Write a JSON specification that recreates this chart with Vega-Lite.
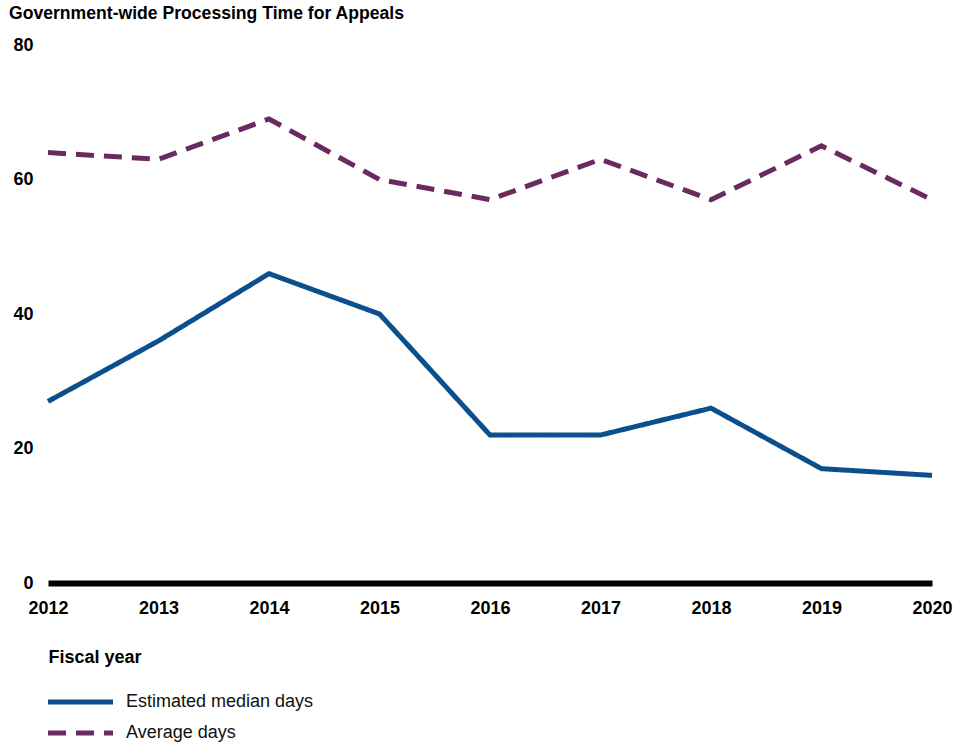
{
  "$schema": "https://vega.github.io/schema/vega-lite/v6.json",
  "autosize": "none",
  "width": 884,
  "height": 538,
  "padding": {"left": 48, "top": 45, "right": 35, "bottom": 159},
  "background": "white",
  "title": {
    "text": "Government-wide Processing Time for Appeals",
    "anchor": "start",
    "frame": "group",
    "dx": -39,
    "offset": 13,
    "font": "Liberation Sans",
    "fontSize": 17.6,
    "fontWeight": "bold",
    "color": "#000000"
  },
  "config": {
    "view": {"stroke": null},
    "font": "Liberation Sans"
  },
  "data": {
    "values": [
      {"year": "2012", "series": "Estimated median days", "days": 27},
      {"year": "2013", "series": "Estimated median days", "days": 36},
      {"year": "2014", "series": "Estimated median days", "days": 46},
      {"year": "2015", "series": "Estimated median days", "days": 40},
      {"year": "2016", "series": "Estimated median days", "days": 22},
      {"year": "2017", "series": "Estimated median days", "days": 22},
      {"year": "2018", "series": "Estimated median days", "days": 26},
      {"year": "2019", "series": "Estimated median days", "days": 17},
      {"year": "2020", "series": "Estimated median days", "days": 16},
      {"year": "2012", "series": "Average days", "days": 64},
      {"year": "2013", "series": "Average days", "days": 63},
      {"year": "2014", "series": "Average days", "days": 69},
      {"year": "2015", "series": "Average days", "days": 60},
      {"year": "2016", "series": "Average days", "days": 57},
      {"year": "2017", "series": "Average days", "days": 63},
      {"year": "2018", "series": "Average days", "days": 57},
      {"year": "2019", "series": "Average days", "days": 65},
      {"year": "2020", "series": "Average days", "days": 57}
    ]
  },
  "mark": {"type": "line", "strokeWidth": 5, "strokeCap": "butt", "strokeJoin": "miter"},
  "encoding": {
    "x": {
      "field": "year",
      "type": "ordinal",
      "scale": {"type": "point", "padding": 0},
      "axis": {
        "title": "Fiscal year",
        "titleFont": "Liberation Sans",
        "titleFontSize": 18,
        "titleFontWeight": "bold",
        "titleColor": "#000000",
        "titleAnchor": "start",
        "titleAlign": "left",
        "titleBaseline": "middle",
        "titleX": 0,
        "titleY": 74,
        "labelAngle": 0,
        "labelFont": "Liberation Sans",
        "labelFontSize": 18,
        "labelFontWeight": "bold",
        "labelColor": "#000000",
        "labelPadding": 25,
        "labelBaseline": "middle",
        "ticks": false,
        "domain": true,
        "domainColor": "#000000",
        "domainWidth": 6,
        "grid": false
      }
    },
    "y": {
      "field": "days",
      "type": "quantitative",
      "scale": {"domain": [0, 80]},
      "axis": {
        "title": null,
        "values": [0, 20, 40, 60, 80],
        "labelFont": "Liberation Sans",
        "labelFontSize": 18,
        "labelFontWeight": "bold",
        "labelColor": "#000000",
        "labelPadding": 15,
        "ticks": false,
        "domain": false,
        "grid": false
      }
    },
    "color": {
      "field": "series",
      "type": "nominal",
      "sort": ["Estimated median days", "Average days"],
      "scale": {"domain": ["Estimated median days", "Average days"], "range": ["#0b4f8c", "#6b2a5f"]},
      "legend": {
        "title": null,
        "orient": "none",
        "legendX": 0,
        "legendY": 648,
        "direction": "vertical",
        "symbolType": "M-1.8,0H11.2",
        "symbolSize": 100,
        "symbolStrokeWidth": 5,
        "symbolFillColor": "transparent",
        "rowPadding": 11,
        "labelFont": "Liberation Sans",
        "labelFontSize": 18,
        "labelColor": "#111111",
        "labelOffset": 60,
        "labelLimit": 400
      }
    },
    "strokeDash": {
      "field": "series",
      "type": "nominal",
      "sort": ["Estimated median days", "Average days"],
      "scale": {"domain": ["Estimated median days", "Average days"], "range": [[1, 0], [18, 10]]},
      "legend": {
        "title": null,
        "orient": "none",
        "legendX": 0,
        "legendY": 648,
        "direction": "vertical",
        "symbolType": "M-1.8,0H11.2",
        "symbolSize": 100,
        "symbolStrokeWidth": 5,
        "symbolFillColor": "transparent",
        "rowPadding": 11,
        "labelFont": "Liberation Sans",
        "labelFontSize": 18,
        "labelColor": "#111111",
        "labelOffset": 60,
        "labelLimit": 400
      }
    }
  }
}
